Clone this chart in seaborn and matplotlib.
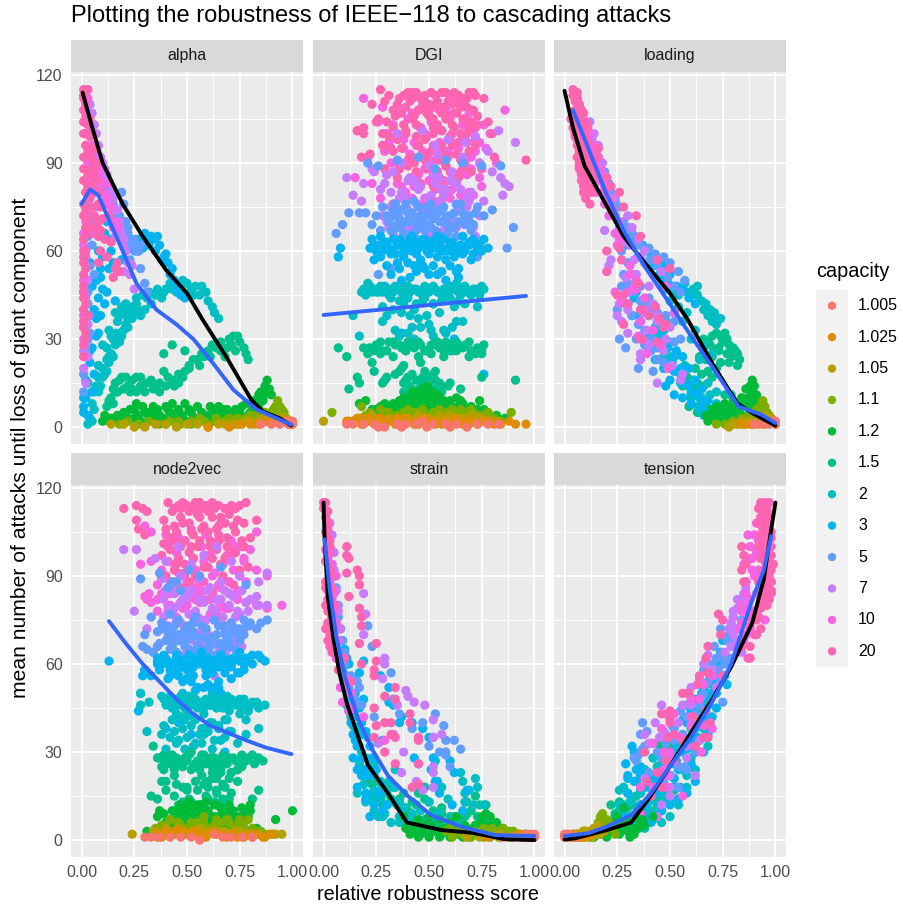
import pandas as pd
import seaborn as sns
import matplotlib.pyplot as plt
from matplotlib.patches import Rectangle
from matplotlib.ticker import FixedLocator

panels = ["alpha", "DGI", "loading", "node2vec", "strain", "tension"]
capacities = ["1.005", "1.025", "1.05", "1.1", "1.2", "1.5", "2", "3", "5", "7", "10", "20"]
colors = ["#F8766D", "#DE8C00", "#B79F00", "#7CAE00", "#00BA38", "#00C08B",
          "#00BFC4", "#00B4F0", "#619CFF", "#C77CFF", "#F564E3", "#FF64B0"]
x_ticks = [0, 0.25, 0.5, 0.75, 1]
x_tick_labels = ["0.00", "0.25", "0.50", "0.75", "1.00"]
y_ticks = [0, 30, 60, 90, 120]

# scores below are in hundredths, y is the mean number of attacks
alpha_x_20 = [1,1,1,1,1,2,1,1,1,1, 1,2,1,1,1,1,1,1,1,1, 2,3,2,4,5,6,7,6,8,2, 3,9,13,8,8,14,16,18,2,3, 5,1,1, 1,2,3,4,2,3,4,5,3,5, 6,7,8,4,6,8,10,6,9,11, 2,3,1,2,1,2,3,1,2,9, 12,15,17]
alpha_y_20 = [115,112,108,104,100,96,92,88,84,76, 72,68,64,60,56,52,48,44,40,36, 32,115,110,105,100,95,90,85,80,80, 82,75,72,65,56,63,54,53,60,66, 75,28,24, 113,106,103,99,100,94,92,88,86,82, 88,84,76,78,72,70,71,68,67,64, 74,70,58,54,46,42,38,34,30,60, 58,51,56]
alpha_x_10 = [2,3,4,5,6,7,8,9,10,12, 14,2,1,1,2,1,1,1,1,13, 3,8,6,16,17,10, 3,4,5,6,7,9,10,11,13,15, 2,3,2,3,4,5]
alpha_y_10 = [110,106,100,96,90,88,86,84,80,78, 75,70,66,62,58,50,46,38,30,83, 78,70,80,70,68,76, 112,104,92,86,94,82,88,76,72,68, 96,90,80,84,72,66]
alpha_x_7 = [4,6,8,9,11,13,15,17,18,19, 20,22,23,16,1,1,1,1,2,2, 3,20,14,10,25,7, 5,7,10,12,14,16,18,20,21,24, 2,3,2,3]
alpha_y_7 = [110,103,96,92,88,83,78,74,70,66, 62,56,52,65,40,34,26,20,15,44, 50,53,76,85,47,75, 107,100,90,86,80,74,68,64,60,55, 55,35,28,24]
alpha_x_5 = [12,14,16,18,21,22,24,25,23,28, 30,2,2,3,4,3,4,2,3,1, 1,2,19,20,27,31, 13,15,17,19,21,23,25,26,28,22, 3,4,5,6,2,3,4,2]
alpha_y_5 = [82,78,74,72,70,66,62,60,57,54, 49,72,68,65,55,46,38,35,30,12, 18,24,80,76,60,46, 78,76,72,70,66,64,64,60,62,68, 76,70,62,52,60,42,32,26]
alpha_x_3 = [26,28,31,34,37,39,41,43,44,45, 47,49,8,9,8,7,5,4,3,1, 12,13,10,16,4,7,6,9,2,3, 11,14,18,21,24,27, 27,29,30,32,33,35,36,38,40,42, 46,48, 6,7,9,10,11,5,6,8, 13,15,3,4,5,2,1,1,19,12,14]
alpha_y_3 = [61,63,64,64,62,58,56,54,50,47, 45,44,60,51,44,37,27,22,15,7, 46,64,58,43,56,31,18,38,10,4, 66,60,67,63,62,60, 64,61,66,62,65,60,65,57,59,52, 48,46, 66,50,54,47,42,48,40,32, 54,56,30,26,12,16,10,5,57,70,72]
alpha_x_2 = [4,5,7,8,13,12,13,18,21,24, 31,37,43,50,54,59,62,65,10,12, 14,15,17,20,16,19,22,26,28,33, 38,40,47,52,56,8,11,14,18,25, 6, 9,10,12,13,15,16,18,20,22,24, 27,30,35,39,42,45,48,53,57,60, 63,6,8,10,16,19,21,23,26,29, 32,36,3,5]
alpha_y_2 = [3,8,14,17,22,27,33,38,35,41, 44,46,47,49,48,46,41,37,20,23, 25,30,36,39,28,31,37,42,38,42, 44,47,48,47,45,12,18,31,32,39, 6, 14,17,19,24,24,32,29,33,34,37, 40,40,45,46,49,46,50,45,48,43, 39,12,21,28,39,41,42,40,44,45, 46,47,1,2]
alpha_x_1_5 = [12,14,16,18,21,26,23,31,37,43, 48,39,39,43,49,53,57,64,69,72, 75,79,20,24,28,34,40,46,51,60, 66,17,15, 13,15,17,19,22,24,26,28,30,33, 35,37,41,44,46,49,51,55,58,61, 62,66,68,71,74,77,78,73,70,56]
alpha_y_1_5 = [7,10,15,16,17,17,12,15,15,16, 17,19,25,28,26,23,25,27,27,31, 29,23,13,13,14,13,14,15,20,26, 26,12,8, 9,13,12,17,14,16,12,17,12,16, 14,12,17,14,18,19,21,23,24,24, 28,29,24,28,31,27,25,26,30,21]
alpha_x_1_2 = [10,13,16,19,22,25,27,30,33,36, 39,42,45,48,51,54,57,60,63,66, 69,72,75,78,81,83,85,87,88,89, 28,35,41,47,53,65,79,86, 11,14,17,20,23,26,29,31,34,37, 40,43,46,49,52,55,58,61,64,67, 70,73,76,80,82,84,86,88,25,32, 38,44,50,56,62,68,74,78,84,90]
alpha_y_1_2 = [2,2,3,2,3,6,4,5,4,6, 3,5,4,4,6,3,5,4,6,3, 6,4,5,8,6,9,12,14,16,13, 2,3,6,2,3,7,4,9, 4,3,4,5,6,8,7,5,7,4, 7,8,6,8,5,7,4,7,5,6, 5,6,7,5,9,11,10,12,3,3, 2,3,2,3,2,3,2,2,7,11]
alpha_x_1_1 = [40,46,52,58,64,70,74,78,80,83, 85,87,89,91,92,93,94,96,97,72, 18,22,27,32,37,42,47,52,56,60, 64,68,72,76,79,82,85,88,90,92, 94,95,91,86]
alpha_y_1_1 = [1,2,1,2,2,3,3,3,4,4, 5,5,4,6,7,9,7,5,3,1, 1,2,1,2,1,2,1,2,3,1, 3,2,2,2,3,3,3,3,5,6, 5,6,3,2]
alpha_x_1_05 = [25,35,45,55,65,72,76,80,84,88, 91,94,96,98,99, 14,20,30,40,50,60,68,74,78,82, 86,89,92,95,97]
alpha_y_1_05 = [0,1,0,1,1,1,1,2,2,2, 3,3,3,2,2, 1,1,0,1,1,0,1,1,2,1, 3,2,2,2,3]
alpha_x_1_025 = [60,70,75,80,84,88,91,94,96,98, 99,100]
alpha_y_1_025 = [0,0,1,1,1,2,2,2,2,2, 1,1]
alpha_x_1_005 = [85,90,94,97,99,100,100,98]
alpha_y_1_005 = [1,1,1,2,2,2,1,1]

DGI_x_20 = [27,31,38,40,42,44,46,48,51,53, 56,58,60,62,64,66,69,71,72,76, 23,35,41,47,50,54,57,61,65,68, 26,37,43,45,49,52,55,59,63,67, 70,73,16,19,25,28,33,39,44,48, 52,56,61,65,69,73,78,80,16,19, 28,32,42,47,51,55,59,63,67,72, 18,22,29,43,49,54,58,62,66,70, 74,81,35,41,46,52,57,63,75,96, 29,33,36,39,42,45,48,50,53,56, 59,62,65,68,71,30,34,38,42,46, 50,54,58,62,66,70,31,35,39,44, 48,52,56,60,64,68,72,33,37,41, 45,49,53,57,61,65,69,36,40,44, 48,52,56,60,64]
DGI_y_20 = [115,113,113,114,114,114,112,113,114,113, 114,114,113,114,113,112,114,114,113,112, 110,110,111,109,110,111,109,110,111,109, 105,107,106,108,107,105,108,106,107,105, 104,106,101,102,104,100,102,101,103,100, 102,101,103,100,102,103,104,100,101,100, 96,95,92,93,94,91,92,93,90,96, 92,93,88,90,88,87,89,86,88,87, 90,92,85,84,83,82,84,83,88,91, 111,108,112,109,112,108,111,108,110,107, 111,107,109,112,108,104,106,103,105,102, 106,103,105,102,105,101,99,98,100,99, 98,100,96,99,97,100,98,94,95,92, 96,92,95,93,96,91,94,88,89,87, 91,86,92,87,85]
DGI_x_10 = [19,28,37,42,47,52,58,63,69,86, 26,33,40,46,51,56,60,66,72,76, 31,38,44,49,55,61,67,74,79,15, 21,29,35,41,48,53,59,65,70,77, 23,30,37,43,50,57,63,68,75,82, 27,33,39,46,52,60,71,66,41,47, 30,34,38,43,47,52,56,60,64,68, 72,32,36,40,45,49,54,58,62,66, 70,74,35,39,43,48,53,57,61,65, 69,33,37,42,47,51,55,59,63]
DGI_y_10 = [112,109,108,107,110,109,108,111,107,108, 104,103,105,102,104,101,105,103,102,103, 97,98,96,99,97,100,98,97,100,85, 92,94,90,93,88,91,94,87,92,95, 83,86,82,85,84,83,85,86,82,90, 78,76,79,75,77,78,79,74,72,73, 100,99,95,97,94,96,94,98,95,97, 94,90,88,91,86,90,87,89,86,90, 88,85,83,80,82,78,81,79,81,79, 80,76,74,78,76,75,77,80,76]
DGI_x_7 = [35,47,53,59,67,72,78,83,91,54, 23,30,37,43,50,55,61,66,74,84, 11,19,24,32,40,45,52,58,63,70, 80,86,14,18,27,34,39,46,51,56, 60,65,76,85,30,36,42,48,54,62, 68,33,39,45,57,74,88,72,28,50, 29,33,37,41,45,49,53,57,61,65, 69,32,36,40,44,48,52,56,60,64, 68,31,35,39,43,47,51,55,59,63, 67,71]
DGI_y_7 = [100,101,96,98,97,99,94,101,97,93, 88,86,90,84,89,85,87,92,90,85, 85,83,87,80,84,82,86,81,83,80, 87,83,79,77,81,76,78,82,79,81, 84,76,77,79,70,71,68,73,74,70, 75,66,64,69,67,72,82,65,72,65, 83,87,80,85,81,78,83,79,84,81, 77,75,78,74,76,72,75,77,72,74, 78,68,72,67,71,68,72,66,69,68, 72,68]
DGI_x_5 = [21,26,35,45,53,58,66,75,84,12, 9,6,17,20,25,28,31,34,37,40, 43,46,49,52,55,59,62,65,69,73, 76,80,33,36,39,42,45,48,51,54, 57,60,63,67,71,29,38,44,50,56, 61,23,27,90,73,87,46,32,26,41, 30,33,36,39,42,45,48,51,54,57, 60,63,66,69,72,31,34,37,40,43, 46,49,52,55,58,61,64,67,70,32, 35,38,41,44,47,50,53,56,59,62]
DGI_y_5 = [90,89,91,92,88,91,90,89,89,73, 69,66,73,73,72,75,71,76,74,70, 77,72,75,71,74,69,73,76,70,75, 72,74,67,68,70,66,69,67,68,66, 70,68,65,71,69,63,61,64,62,65, 63,69,67,68,58,61,55,54,52,47, 72,74,71,76,73,75,72,76,73,75, 72,76,73,72,73,70,72,69,73,70, 72,69,73,70,72,68,70,69,67,67, 69,66,70,67,71,69,67,70,66,68]
DGI_x_3 = [23,26,28,29,31,33,35,37,39,41, 43,45,47,49,51,53,55,57,59,61, 63,65,67,69,71,73,75,78,8,7, 34,38,42,46,50,54,58,62,66,70, 30,36,40,44,48,52,56,60,64,27, 24,32,35,41,47,54,58,63,29,40, 37,62,60,76, 24,27,30,33,36,39,42,45,48,51, 54,57,60,63,66,69,72,76,25,29, 32,35,38,41,44,47,50,53,56,59, 62,65,68,71,74,22,43,50,64,37]
DGI_y_3 = [64,62,60,63,61,64,62,63,60,62, 63,61,64,60,63,61,62,64,60,63, 61,62,60,63,64,61,60,61,61,58, 59,58,60,57,59,58,57,58,59,57, 55,54,56,53,54,55,53,55,54,58, 57,52,56,51,55,52,50,53,48,46, 32,30,26,18, 62,65,63,60,64,61,65,62,64,61, 65,60,63,61,65,62,63,64,60,61, 59,62,60,64,59,62,60,64,60,61, 59,60,62,59,62,61,55,52,51,50]
DGI_x_2 = [19,22,24,27,30,33,36,39,42,45, 48,51,54,57,60,63,66,69,72,75, 20,26,31,35,38,41,44,47,50,53, 56,59,62,65,68,71,74,28,38,43, 47,52,57,62,67,73,14,33,37,41, 45,49,55,63,28,30,17,34,42,50, 58,66,36,40,46,52,57,61,43,51, 18,21,23,25,28,31,34,37,40,43, 46,49,52,55,58,61,64,67,70,73, 76,32,36,40,44,48,52,56,60,64]
DGI_y_2 = [47,48,47,48,47,46,47,48,47,46, 48,47,46,47,48,49,47,46,47,48, 45,46,45,47,45,46,47,45,46,47, 45,46,47,45,46,47,45,41,42,40, 43,42,44,41,42,41,38,40,39,38, 37,38,39,36,36,38,31,33,34,35, 32,36,31,32,34,31,33,34,30,33, 46,49,46,46,46,47,48,46,48,47, 46,47,48,46,45,47,46,48,45,46, 47,44,43,44,42,44,42,43,44,43]
DGI_x_1_5 = [19,22,25,28,31,34,37,40,43,46, 49,52,55,58,61,64,67,70,73,76, 21,27,33,39,45,51,57,63,69,75, 7,11,23,38,46,37,42,48,24,30, 17,29,34,40,44,47,50,53,56,60, 65,41,36,45,49,55,59,75,91,12, 16,28,39,52,44,47,50,53,38,42, 24,27,30,33,36,39,42,45,48,51, 54,57,60,63,66,69,72,75,38,41, 44,47,50,53,41,44,47,50,53,56]
DGI_y_1_5 = [27,27,28,26,29,28,27,29,27,28, 26,28,27,29,26,27,28,26,27,28, 25,25,24,26,24,25,24,26,24,25, 27,24,22,21,22,20,18,19,19,17, 15,16,18,17,16,15,17,16,14,15, 13,14,19,13,12,15,14,17,16,13, 17,15,16,18,10,13,12,11,12,10, 26,29,26,29,28,26,28,29,26,28, 29,26,28,29,27,29,25,26,15,13, 12,17,14,19,11,10,14,9,13,12]
DGI_x_1_2 = [17,20,23,27,30,33,36,39,42,45, 48,51,54,57,60,63,66,70,74,76, 28,35,40,44,47,50,53,56,59,62, 37,41,45,48,52,55,58,43,46,50, 82,86,24,32,65,72, 25,29,33,37,41,45,49,53,57,61, 65,69,73,31,36,40,44,48,52,56, 60,64,68,38,42,46,50,54,44,48, 52,47,49,51]
DGI_y_1_2 = [8,9,6,7,7,8,9,8,12,11, 10,9,11,8,9,10,8,7,9,6, 5,6,6,7,9,7,6,8,6,5, 5,10,9,11,8,10,5,12,9,12, 4,3,4,4,4,3, 6,8,7,7,9,8,9,10,9,7, 9,6,6,6,8,8,10,9,10,7, 8,7,5,10,11,12,11,9,7,6, 6,13,14,12]
DGI_x_1_1 = [4,18,22,27,31,35,40,45,50,55, 60,65,70,74,78,81,89,20,25,30, 37,43,48,53,58,63,68,72,76,84, 17,23,29,33,38,43,47,52,56,61, 66,71,77,28,34,41,49,55,62,69]
DGI_y_1_1 = [5,7,5,6,5,4,6,5,4,6, 5,6,6,4,5,3,5,4,3,4, 3,5,4,3,5,4,5,3,4,2, 3,3,5,3,5,3,6,5,3,6, 3,5,3,3,3,4,3,6,5,3]
DGI_x_1_05 = [0,12,16,19,24,28,33,38,43,48, 53,58,63,68,73,78,82,21,30,36, 41,46,52,57,62,70,76, 14,18,23,27,31,35,40,45,50,55, 60,65,70,75,80,26,44,54]
DGI_y_1_05 = [2,2,2,3,3,2,2,3,2,3, 2,3,2,3,3,2,2,2,2,2, 2,2,2,2,2,2,2, 2,3,4,2,3,3,3,4,3,4, 4,3,4,3,2,3,3,3]
DGI_x_1_025 = [11,14,18,22,27,31,36,40,45,50, 56,61,66,71,76,81,88,96,25,34, 43,53,59,69, 16,21,26,30,35,39,44,48,53,58, 63,68,73,78,84,91]
DGI_y_1_025 = [2,2,1,2,3,2,1,2,1,2, 1,2,1,2,2,1,2,1,1,1, 1,1,1,1, 3,3,2,2,3,3,2,3,2,2, 3,2,1,2,1,1]
DGI_x_1_005 = [11,14,19,24,29,35,39,44,47,52, 58,63,68,73,78,83,26,37,49,60]
DGI_y_1_005 = [1,1,1,1,0,1,1,1,2,1, 1,1,0,1,1,1,0,0,0,0]

loading_x_20 = [4,5,6,7,8,9,10,11,3,4, 5,6,7,8,9,10,5,6,7,8, 9,11,13,12,14,16,15,7,10,12, 20,22,26,28,34,36,44,20,26,27, 20,35,43,36,28,44,36,45,48,50, 28,25,30,40,47, 4,5,6,7,8,5,6,7,8,9, 10,6,7,8,9,10,11,6,7,8, 9,10,12,7,8,9,10,11,8,9, 10,11,13,15,9,10,11,12,14]
loading_y_20 = [115,114,112,110,108,107,104,102,105,102, 99,96,94,92,90,87,100,92,89,86, 84,81,80,92,88,95,85,90,84,88, 85,82,80,75,72,65,57,60,61,57, 53,49,41,40,35,29,30,37,35,54, 45,45,42,38,34, 113,111,114,107,104,108,107,103,100,97, 98,104,100,96,100,93,97,98,95,88, 94,90,90,88,84,82,86,82,87,80, 92,88,86,92,84,78,81,76,82]
loading_x_10 = [6,8,10,12,14,16,17,18,19,15, 13,21,23,26,11,7,5,25,31,34, 38,27,30,24,38,42,46,49,37,35, 39,43,52,45,48,33,31, 7,9,11,13,15,16,18,20,9,11, 13,15,17,19,21,24,26,34,30,36]
loading_y_10 = [112,108,104,100,96,92,88,84,80,80, 85,78,74,70,82,95,100,62,55,47, 44,43,42,46,40,33,28,20,30,31, 25,41,39,37,48,48,52, 106,102,98,94,91,86,80,76,94,88, 90,84,84,76,72,66,64,50,46,36]
loading_x_7 = [12,14,16,18,19,21,24,30,32,35, 38,46,29,22,21,33,42,44,50,45, 36,27,30,39,36,47,51,55,44,19, 26,40,37,56, 13,15,17,19,20,22,24,26,28,31, 33,36,34,40,44,48,30,25]
loading_y_7 = [104,100,96,90,86,82,78,72,68,64, 60,53,51,57,55,47,42,36,34,28, 25,36,32,33,23,26,21,16,15,67, 42,28,39,18, 98,94,88,82,78,75,72,68,63,62, 57,58,52,48,38,30,40,38]
loading_x_5 = [19,21,24,26,28,30,32,36,40,43, 47,50,54,57,28,30,33,36,40,44, 48,52,26,25,29,34,41,44,47,52, 42,40,55,27,38,35, 22,24,27,30,33,35,38,41,44,46, 49,52,55,27,30,33,36,39,42,45, 29,32,35,38,41,44]
loading_y_5 = [87,83,77,75,70,68,66,62,61,59, 58,56,53,50,52,49,46,43,44,39, 38,36,30,40,27,30,26,23,22,29, 19,26,30,48,33,20, 80,72,66,64,62,58,56,57,55,53, 51,48,46,60,56,52,48,42,40,36, 42,38,35,28,30,27]
loading_x_3 = [33,36,38,41,44,47,50,53,56,59, 62,30,33,37,40,43,46,49,52,55, 37,40,43,47,50,55,59,63,48,52, 56,60,65,51,35,70,66, 29,32,35,37,39,42,45,48,50,34, 38,41,44,47,50,53,56,59,62,65, 68,32,36,40,44,52,56,60,64,68]
loading_y_3 = [65,62,60,58,57,55,52,48,47,44, 42,47,44,41,38,34,31,27,24,20, 30,27,23,20,16,18,14,11,14,11, 10,8,7,22,38,6,4, 62,64,58,62,56,55,52,50,48,46, 43,40,36,33,29,26,24,20,16,13, 9,38,36,32,28,19,15,12,10,5]
loading_x_2 = [47,49,51,53,55,58,61,63,65,67, 69,71,73,74,50,54,58,62,66,70, 48,44,49,53,57,61,65,69,72,65, 59,54,47,63,71,75,79,68, 48,51,54,57,60,63,66,68,70,72, 52,56,60,64,68,72,76,46,50,55, 60,64,68,74]
loading_y_2 = [48,49,48,46,47,46,47,45,43,42, 40,39,37,37,43,41,39,33,28,25, 36,32,28,25,21,16,13,11,8,10, 15,19,24,7,5,5,3,3, 47,46,45,49,45,48,40,38,36,35, 39,36,30,23,15,12,3,30,24,15, 11,6,5,3]
loading_x_1_5 = [66,68,70,72,74,76,78,80,82,83, 67,70,73,77,62,65,68,72,76,79, 55,58,61,64,67,69,72,75,78, 64,66,69,71,73,75,77,79,81,60, 63,66,70,74,78,82,56,60,65,70, 75,59,63]
loading_y_1_5 = [27,29,31,32,31,32,28,27,25,23, 23,24,26,25,20,18,19,20,11,11, 19,17,13,10,8,6,5,6,5, 24,30,28,26,27,29,30,24,26,16, 15,14,17,22,22,21,14,10,6,4, 3,7,5]
loading_x_1_2 = [70,72,74,76,78,80,82,84,86,88, 89,90,91,84,86,88,72,67,75,78, 82,74,68, 68,71,74,77,79,81,83,85,87,89, 76,80,84,88,90,92]
loading_y_1_2 = [6,7,5,8,6,9,8,10,13,14, 16,14,11,7,9,5,3,4,3,3, 3,2,2, 4,5,3,5,7,6,7,8,10,12, 2,3,4,7,9,5]
loading_x_1_1 = [76,80,84,86,88,90,92,93,94,95, 96,97,98,89,85, 78,82,84,87,89,91,93,95,97,72]
loading_y_1_1 = [1,2,2,3,4,4,5,7,9,7, 5,4,3,1,1, 1,1,3,2,3,6,5,5,3,1]
loading_x_1_05 = [78,82,86,90,93,96,98,99, 80,84,88,92,95,97]
loading_y_1_05 = [0,1,1,1,2,3,3,2, 1,2,2,2,4,2]
loading_x_1_025 = [84,88,92,95,97,99,100]
loading_y_1_025 = [1,1,1,1,2,2,1]
loading_x_1_005 = [90,94,97,99,100,100]
loading_y_1_005 = [1,1,1,2,2,1]

node2vec_x_20 = [41,44,46,48,50,53,56,59,62,65, 68,71,75,78,20,26,29,31,26,27, 30,39,44,47,51,55,58,62,66,70, 74,77,42,45,49,53,57,61,65,69, 73,80,83,38,42,46,51,55,59,64, 68,72,76,40,44,49,54,60,67,79, 43,47,51,54,57,60,63,66,70,73, 40,44,48,52,56,60,64,68,72,76, 39,43,47,52,56,61,65,69,73,77, 41,45,49,53,58,62,66,71,75,43, 47,51,57,62,67,72]
node2vec_y_20 = [115,113,114,115,114,113,115,114,115,114, 113,114,114,115,113,114,113,112,109,106, 104,109,107,110,108,111,107,110,108,111, 109,108,103,105,102,104,106,102,104,103, 105,103,109,97,99,96,98,100,97,99, 96,98,100,90,92,91,90,93,90,93, 112,113,112,115,113,112,113,110,112,113, 106,102,108,105,110,105,106,108,107,102, 101,103,100,100,102,100,102,100,98,100, 95,94,94,96,93,96,94,97,92,88, 86,88,88,85,89,87]
node2vec_x_10 = [30,33,40,46,52,59,65,71,80,83, 28,33,38,44,49,54,58,63,67,72, 77,88,36,40,45,50,55,60,65,70, 75,83,30,32,36,42,47,53,57,61, 66,72,74,78,83,36,44,50,56,62, 68,95,31,33,41,48,54,64,70,88, 41,45,49,53,57,61,65,69,73,77, 38,42,46,50,54,58,62,66,70,74, 78,38,42,46,50,54,58,62,66,70, 74,41,45,49,53,57,61,65,69]
node2vec_y_10 = [107,105,104,103,106,104,107,102,99,105, 94,95,92,94,90,92,95,91,94,92, 96,90,87,85,88,86,89,85,87,88, 90,92,83,84,82,84,81,83,85,82, 80,83,84,81,80,78,79,80,81,78, 79,80,82,81,80,79,82,78,79,79, 100,98,102,96,100,97,102,97,100,95, 90,88,91,88,86,88,90,86,88,85, 88,84,80,85,82,84,82,84,82,84, 82,78,76,79,76,75,77,76,79]
node2vec_x_7 = [20,26,35,40,46,52,58,64,71,88, 38,43,47,51,56,61,66,70,75,84, 39,42,46,50,54,58,62,66,70,74, 78,83,25,31,41,45,49,53,57,63, 68,73,80,84,88,36,44,51,60,69, 34,40,48,56,65,72,76,52,58,63, 40,44,48,52,56,60,64,68,72,76, 80,39,43,47,51,55,59,63,67,71, 75,79,41,45,49,53,57,61,65,69, 73,77]
node2vec_y_7 = [99,99,96,95,100,94,97,100,95,91, 89,87,90,85,89,86,88,84,90,88, 82,79,80,83,78,81,79,82,80,78, 81,83,78,72,73,75,72,74,71,75, 73,76,73,80,80,66,68,69,70,65, 64,62,63,62,64,67,66,58,60,56, 85,84,82,85,82,85,82,85,83,85, 82,76,78,74,77,76,75,78,76,74, 77,78,70,68,70,68,66,68,66,68, 70,72]
node2vec_x_5 = [28,37,41,45,51,56,66,78,43,47, 33,38,42,46,50,54,59,63,67,71, 75,79,85,88,30,36,40,44,49,53, 57,62,68,73,77,83,37,42,46,51, 55,60,65,70,75,31,42,46,49,54, 58,62,68,75,29,45,47,55,61,66, 38,41,44,47,50,53,56,59,62,65, 68,71,74,77,80,40,43,46,49,52, 55,58,61,64,67,70,73,76,45,48, 51,54,57,60,63,66,69,34,36,38]
node2vec_y_5 = [89,91,86,88,92,90,93,87,88,85, 76,74,77,75,73,76,72,75,73,74, 72,73,74,75,70,71,73,70,72,71, 73,69,71,72,70,72,67,69,68,70, 66,68,67,66,68,65,65,63,66,64, 65,63,66,68,66,58,62,64,52,50, 72,71,73,70,72,74,69,72,69,73, 70,71,70,75,74,68,66,70,67,69, 66,69,66,70,67,68,65,71,64,62, 65,62,64,63,62,64,62,64,66,62]
node2vec_x_3 = [13,30,33,36,39,42,45,48,51,54, 57,60,63,66,69,72,75,78,81,85, 87,37,41,44,47,50,53,56,59,62, 65,68,71,74,77,29,30,36,41,46, 50,52,55,60,65,71,75,48,54,62, 66,28,27,40,46,52,58,70,68,79, 36,39,42,45,48,51,54,57,60,63, 66,69,72,75,78,81,84,38,41,44, 47,50,53,56,59,62,65,68,71,74, 77,42,45,48,51,55,58,62,65]
node2vec_y_3 = [61,58,56,62,63,60,62,59,63,61, 64,62,60,63,61,62,64,61,63,62, 61,58,60,57,59,58,56,60,58,57, 59,58,60,57,60,56,58,61,55,56, 55,54,52,53,54,55,57,50,51,52, 50,50,44,38,40,36,38,37,30,44, 60,61,58,63,61,60,62,61,60,61, 62,60,62,61,62,60,63,60,61,59, 61,60,59,62,56,59,61,57,59,62, 58,56,57,54,57,52,52,50,52]
node2vec_x_2 = [38,41,44,47,50,53,56,59,62,65, 68,71,74,77,80,83,87,28,28,32, 40,43,46,49,52,55,58,61,64,67, 70,73,76,79,43,47,50,54,58,62, 68,75,78,39,44,48,52,56,60,65, 71,31,38,42,46,50,54,58,63,84, 40,45,49,53,57,68,74,78,62,66, 39,42,45,48,51,54,57,60,63,66, 69,72,75,78,81,84,43,46,49,52, 55,58,61,64,67,70,73,76,45,49, 53,57,61,65,69]
node2vec_y_2 = [49,47,48,49,48,49,47,48,49,48, 47,48,47,48,46,47,46,50,46,47, 46,45,47,45,46,45,47,46,45,46, 44,46,45,44,41,42,43,41,43,40, 41,43,41,39,37,38,39,36,37,38, 37,37,36,35,34,35,33,36,34,38, 31,33,31,32,33,35,33,36,31,34, 48,49,46,47,49,48,46,47,48,46, 49,47,48,46,47,45,47,46,48,47, 46,45,46,47,45,46,47,46,43,41, 42,38,40,39,41]
node2vec_x_1_5 = [34,37,40,43,46,49,52,55,58,61, 64,67,70,73,76,79,82,86,39,44, 48,52,57,62,66,71,76,40,44,57, 60,64,67,66,70,74,48,60,38,33, 36,40,44,48,51,55,59,63,67,71, 84,81,74,56,60,64,68,45,50, 36,39,42,45,48,51,54,57,60,63, 66,69,72,75,78,81,84,38,41,44, 47,50,53,56,59,62,65,68,71,74, 50,54,58,62,64,68,46,52,70]
node2vec_y_1_5 = [32,28,27,29,26,28,30,27,29,28, 26,29,28,27,29,28,26,27,24,26, 25,24,26,25,24,23,25,20,22,22, 20,21,19,23,21,24,18,18,20,15, 14,17,15,13,14,17,15,13,14,16, 17,14,20,12,14,16,12,19,17, 28,29,26,28,27,29,26,29,27,28, 27,26,28,26,27,29,28,25,27,24, 26,27,25,24,26,23,25,26,23,24, 18,20,19,21,17,18,12,13,14]
node2vec_x_1_2 = [36,39,42,45,48,51,54,57,60,63, 66,69,72,75,78,38,43,47,52,56, 61,67,74,79,31,40,46,50,59,64, 71,83,92,100,80,80,37,55,70, 37,40,43,46,49,52,55,58,61,64, 67,70,73,76,79,41,45,49,53,57, 61,65,69,73,39,44,48,52,56,60, 64,68,72,76,47,51,55,59,63]
node2vec_y_1_2 = [8,9,7,10,8,11,9,12,10,8, 11,9,10,8,9,5,7,5,6,7, 5,6,6,8,3,4,3,4,3,4, 4,4,7,10,12,10,10,10,11, 9,6,10,8,10,12,10,11,8,12, 10,12,8,11,10,6,5,8,5,9, 6,8,6,6,3,5,6,8,5,6, 4,5,4,6,12,13,12,13,12]
node2vec_x_1_1 = [38,42,47,52,58,63,69,74,79,85, 35,44,49,55,60,66,72,77,83,91, 36,40,45,50,55,61,66,72,77,41, 46,52,58,64,70,75,81,87]
node2vec_y_1_1 = [5,7,5,6,8,5,7,5,7,3, 4,3,4,5,4,3,4,4,3,2, 3,5,6,3,6,3,6,3,6,3, 6,4,6,7,6,7,4,2]
node2vec_x_1_05 = [24,34,38,43,46,51,56,60,65,70, 75,80,84,89,92,95,36,48,58,68, 35,40,44,48,53,58,63,68,73,78, 82,87]
node2vec_y_1_05 = [2,3,2,3,4,2,4,2,3,2, 3,2,2,2,2,2,1,2,2,2, 3,4,2,3,3,3,3,3,3,2, 2,1]
node2vec_x_1_025 = [36,40,45,50,55,59,64,69,74,79, 83,86,90, 38,43,48,53,57,62,67,72,77,81]
node2vec_y_1_025 = [2,3,3,2,2,1,2,1,1,2, 2,1,2, 1,2,3,3,2,3,2,2,1,1]
node2vec_x_1_005 = [33,37,42,47,52,56,63,67,71,76, 81,30]
node2vec_y_1_005 = [1,1,1,1,1,0,2,1,1,1, 1,1]

strain_x_20 = [0,1,2,2,1,2,3,2,1,3, 4,1,2,3,1,2,4,3,5,11, 11,11,12,12,16,17,17,17,18,18, 17,25,25,18,24,24,29,34,34,24, 25,29,32,32,24,34,29,34,41,41, 45,45,45,45,42,10,13,3,7, 0,1,2,3,1,2,3,1,2,4, 1,2,3,2,3,4,5,5]
strain_y_20 = [115,115,112,108,105,103,100,97,95,92, 90,88,85,83,80,78,76,74,72,100, 97,91,83,96,92,90,87,79,76,73, 67,67,61,60,58,56,49,48,52,45, 39,40,40,36,35,35,30,26,43,40, 35,34,26,19,18,62,54,68,58, 113,110,106,102,99,94,92,86,82,86, 72,74,70,68,66,64,80,70]
strain_x_10 = [1,2,3,4,3,4,5,6,5,4, 7,8,11,13,14,9,33,29,19,3, 2,6, 2,3,4,5,2,3,4,5,6,6, 7,8,10,12]
strain_y_10 = [110,104,98,94,88,82,78,74,68,66, 62,58,55,50,45,47,36,34,42,74, 86,90, 108,100,90,84,96,78,76,72,80,62, 68,52,52,44]
strain_x_7 = [3,4,5,5,6,7,8,19,20,19, 29,29,28,39,40,43,48,52,56,38, 33,26,37,52,47,44,52,52,35,52]
strain_y_7 = [108,104,98,92,85,78,72,84,77,70, 62,60,55,51,49,47,46,41,36,30, 36,33,23,23,17,20,18,25,46,35]
strain_x_5 = [3,5,7,8,9,10,13,17,21,23, 33,47,53,57,58,52,55,62,58,65, 24,16,13,36,42,50,58,60,32, 4,6,7,8,10,11,12,14,9,15, 18]
strain_y_5 = [98,90,80,72,68,60,56,52,73,66, 48,40,43,39,34,35,30,34,30,31, 42,54,46,43,38,32,29,25,57, 94,86,76,64,64,56,52,50,60,48, 46]
strain_x_3 = [7,9,10,12,14,15,17,18,20,22, 27,31,33,37,42,47,50,52,53,55, 60,62,19,12,14,16,18,16,19,22, 17,28,31,36,45,43,51,54,61,66, 68, 6,8,8,9,11,11,13,15,16,19, 21,23,25,14,17,20,24,28,30,16, 22,13,15,18,20,26]
strain_y_3 = [72,68,65,60,55,50,45,40,37,32, 56,52,46,42,40,38,35,28,20,16, 27,23,61,44,36,32,28,24,24,22, 57,34,47,40,26,28,24,20,12,10, 17, 66,72,62,58,62,52,48,42,36,48, 35,28,24,28,32,16,12,10,12,18, 8,40,34,22,14,16]
strain_x_2 = [11,13,14,15,16,18,20,22,24,27, 30,33,36,40,44,50,55,59,65,66, 67,69,72,73,17,19,21,24,27,29, 31,34,26,23,53,56,67,71,76,47, 12,14,16,18,20,24,26,28,30,34, 36,38,42,46,52,58,62,64,16,20, 24,28,32,36,40,44,48,52,57,62]
strain_y_2 = [46,42,39,35,32,30,28,25,22,20, 17,13,8,7,19,13,9,14,23,20, 16,17,21,18,26,19,15,17,15,9, 20,24,8,14,27,18,13,12,12,18, 50,46,38,36,22,26,14,18,12,18, 13,11,9,10,8,6,8,5,16,13, 10,8,6,6,5,6,7,5,4,5]
strain_x_1_5 = [21,24,27,30,33,36,39,42,45,48, 52,56,60,64,68,72,74,77,28,35, 43,50,38,41,47,54,61,67,70,73, 20,23,26,29,32,36,40,44,48,52, 56,60,64,68,72,76,40,44,48,52, 56,42]
strain_y_1_5 = [20,16,14,16,18,14,11,9,16,18, 10,9,6,4,13,15,12,12,12,12, 5,13,16,7,6,4,4,8,10,8, 24,19,20,12,14,8,10,12,14,6, 11,8,7,9,5,6,4,4,3,3, 2,13]
strain_x_1_2 = [38,40,42,45,48,52,56,60,64,68, 72,75,77,79,82,41,46,50,55,63, 70,85, 39,43,47,51,55,59,63,67,71,75, 79,83,87,45,50,55,60,66,74]
strain_y_1_2 = [8,5,3,7,5,3,4,6,2,4, 5,8,9,8,6,2,2,8,7,8, 2,4, 4,5,3,5,3,4,3,5,4,6, 5,4,3,1,1,1,1,1,2]
strain_x_1_1 = [58,62,66,70,74,78,82,85,88,91, 61,69,76,83,89, 60,64,68,72,76,80,84,87,90,93]
strain_y_1_1 = [3,2,2,1,2,3,3,4,3,2, 1,1,1,1,1, 4,3,3,3,4,4,2,2,3,2]
strain_x_1_05 = [68,74,79,84,88,92,95,97]
strain_y_1_05 = [1,1,1,2,1,2,2,1]
strain_x_1_025 = [78,84,89,93,96,98]
strain_y_1_025 = [1,1,1,2,2,1]
strain_x_1_005 = [85,90,94,96,98,100,100]
strain_y_1_005 = [1,1,1,2,2,2,1]

tension_x_20 = [93,95,96,97,93,94,95,96,97,92, 94,96,98,94,95,97,98,96,98,92, 95,97,96,93,98,84,85,84,85,93, 91,88,91,84,88,88,75,73,74,68, 67,68,64,63,59,56,75,69,68,50, 50,46,52,49,50,38,44,67,66,48, 46,56,61,62,39,41, 92,93,94,95,96,97,98,93,94,95, 96,97,98,99,93,94,95,96,97,98, 92,94,96,91,92,93,90,88,86]
tension_y_20 = [115,115,114,115,113,112,111,112,110,108, 106,108,105,102,104,100,97,96,92,100, 95,88,86,82,85,100,97,92,88,79, 75,73,70,66,66,62,75,77,70,66, 62,57,56,53,50,50,56,40,35,44, 42,43,36,35,40,30,23,44,35,27, 18,34,42,32,20,15, 113,110,108,109,107,105,103,104,100,98, 100,94,100,94,96,92,90,84,82,88, 88,84,80,84,76,72,76,76,94]
tension_x_10 = [91,93,95,96,97,98,92,94,88,89, 90,92,93,95,86,84,83,85,87,84, 70,66,60,70,52,50,46,42,60,66, 47,55,52,62,30,36,65,42,56,36, 47,48, 87,88,89,90,91,92,93,94,95,96, 97,98,85,86,88,90,92,94,84,86, 88,90,86,64,60,50,48]
tension_y_10 = [108,103,98,94,90,84,102,96,100,96, 90,85,80,75,88,80,72,68,62,78, 56,53,48,38,43,41,38,33,39,39, 24,35,27,32,5,9,30,18,15,18, 30,18, 104,96,92,104,98,92,88,90,82,84, 94,88,94,84,82,78,76,80,74,70, 72,70,78,48,42,30,22]
tension_x_7 = [86,85,87,88,84,82,81,80,83,79, 76,68,66,64,60,58,46,48,43,47, 40,38,52,38,58,61,50,50,46,64, 44,62, 80,82,84,86,78,80,82,84,79,81, 70,72,56,54,60,45,50,58,50,47]
tension_y_7 = [88,84,80,76,82,79,72,70,68,66, 64,63,60,55,52,50,46,43,40,37, 33,36,36,21,28,38,18,15,12,34, 8,22, 78,82,74,86,72,76,68,64,74,66, 58,52,46,40,46,35,22,32,28,22]
tension_x_5 = [84,80,79,77,75,78,73,72,69,66, 72,75,65,62,58,55,51,48,37,39, 38,35,34,37,56,52,46,54,61,57, 47,40,33, 71,74,76,78,80,82,70,72,74,76, 66,68,64,60,58,52,48,44,41,36, 50,54,58,62]
tension_y_5 = [75,76,72,68,64,62,58,62,55,50, 52,47,49,43,46,44,39,33,40,37, 32,29,27,31,36,34,28,25,39,25, 20,23,28, 66,72,62,70,68,72,60,56,54,60, 58,54,46,40,42,38,36,30,33,36, 22,18,24,30]
tension_x_3 = [72,74,75,77,70,69,67,65,62,60, 58,56,53,51,72,70,66,62,58,54, 50,48,33,34,30,29,36,32,44,55, 60,63,52,28,47,30,41,38, 70,72,74,76,66,68,70,62,64,66, 58,60,62,56,54,52,50,46,44,42, 40,36,34,30,54,58,62,66,50,46, 42,38,36,68]
tension_y_3 = [60,64,68,53,55,48,45,50,48,44, 46,41,33,30,45,42,35,38,31,24, 30,27,30,24,22,26,25,32,16,18, 26,35,21,9,25,21,6,12, 56,50,60,56,52,42,50,44,42,40, 40,34,30,36,30,26,22,18,20,22, 18,22,20,16,14,16,20,30,12,10, 8,8,12,36]
tension_x_2 = [70,66,64,60,56,54,50,46,42,37, 33,29,28,33,38,42,46,50,54,58, 62,66,68,46,40,36,31,26,26,44, 50,52,47,43,40,62,68, 68,64,60,56,52,48,44,40,36,32, 64,60,56,52,48,44,40,36,30,26, 34,38,42,46,50,54,58]
tension_y_2 = [53,47,42,38,34,30,27,20,14,10, 8,10,18,20,24,28,16,13,12,18, 30,38,32,10,13,17,13,17,12,25, 22,28,13,9,6,24,46, 50,45,42,30,30,26,22,20,16,14, 34,28,24,18,16,12,10,6,8,7, 5,4,7,6,8,14,22]
tension_x_1_5 = [22,26,30,34,38,42,46,50,36,42, 48,44,46,48,50,51,53,40,52,34, 24,32,30,37,28, 24,26,28,30,32,34,36,38,40,42, 44,46,48,50,33,37,41,45,27,31]
tension_y_1_5 = [12,13,16,20,24,28,29,27,12,17, 31,33,32,33,32,30,27,6,17,9, 8,8,7,7,5, 9,10,12,11,12,15,16,18,20,22, 25,26,28,22,4,5,10,14,7,3]
tension_x_1_2 = [10,14,18,22,26,30,33,25,19,16, 13,7,22,30,35,38,42,26,28, 12,15,18,21,24,27,30,33,14,20, 26,31,35,37]
tension_y_1_2 = [2,3,2,4,5,3,2,8,5,3, 1,1,6,6,7,5,8,3,11, 1,2,3,3,3,5,5,4,1,1, 2,1,4,7]
tension_x_1_1 = [5,8,10,12,14,16,17,18,20,22, 9,13,19,24,11,15, 6,9,12,15,17,19,21,23,16,18]
tension_y_1_1 = [1,2,3,2,4,6,8,9,7,5, 1,1,3,2,2,2, 2,3,3,4,5,5,6,4,4,7]
tension_x_1_05 = [3,5,7,9,10,12,14,16,18,8, 13, 4,6,8,11,13,15,17]
tension_y_1_05 = [1,1,2,3,3,3,4,5,3,1, 1, 2,2,2,2,3,2,2]
tension_x_1_025 = [1,2,4,5,7,8,10,12]
tension_y_1_025 = [1,1,2,2,1,1,1,2]
tension_x_1_005 = [0,0,1,2,3,4,6]
tension_y_1_005 = [1,2,2,2,1,1,1]

# black curves, only on the four panels that have one
black_x = {
    "alpha": [0.005,0.045,0.10,0.195,0.29,0.40,0.50,0.575,0.69,0.805,0.86,0.94,0.995],
    "loading": [0,0.04,0.095,0.195,0.28,0.38,0.50,0.585,0.70,0.82,0.89,0.935,1],
    "strain": [0,0.005,0.02,0.045,0.075,0.11,0.165,0.21,0.305,0.395,0.56,0.705,0.86,1],
    "tension": [0,0.05,0.20,0.315,0.395,0.49,0.585,0.70,0.79,0.89,0.945,0.975,1],
}
black_y = {
    "alpha": [114,103.5,90,76,65,53.6,45.6,36.5,23.5,9.3,5.3,3,0.5],
    "loading": [114.6,102,89,76,65,56,45.6,36.5,21.8,8,4.8,3,0.5],
    "strain": [115,102.5,83,69.5,57,46.7,35,25.6,16,6,3.4,2.5,0.3,0],
    "tension": [0.2,0.6,3.4,6,13.7,24,35,48,59,74,89,103.6,115],
}
# blue smoothers
blue_x = {
    "alpha": [0,0.04,0.08,0.13,0.195,0.26,0.355,0.45,0.53,0.61,0.72,0.83,0.925,0.995],
    "DGI": [0,0.96],
    "loading": [0.04,0.11,0.195,0.28,0.38,0.49,0.60,0.71,0.825,0.935,1],
    "node2vec": [0.13,0.21,0.29,0.37,0.45,0.53,0.61,0.69,0.78,0.875,0.995],
    "strain": [0.005,0.03,0.06,0.10,0.165,0.23,0.305,0.40,0.51,0.655,0.815,1],
    "tension": [0,0.11,0.20,0.315,0.41,0.505,0.60,0.70,0.79,0.89,0.945,0.98],
}
blue_y = {
    "alpha": [76,81,79,70.6,60,49,40,35,30,23,12.7,6,3,0.8],
    "DGI": [38.2,44.7],
    "loading": [108,95.5,80,67,54.7,43,31,19.5,7,4.2,1.4],
    "node2vec": [74.6,67,60,54,48,43,39,36.7,34,31.5,29.3],
    "strain": [102.5,85,69.5,56,41,31,22,15,8.5,4.5,1.7,1.4],
    "tension": [1.4,2.3,4.6,8.5,16,25.6,35,47,60,82,92,103.6],
}

curve_order = ["1.5", "2", "3", "5", "7", "10", "20", "1.2", "1.1", "1.05", "1.025", "1.005"]
cloud_order = ["10", "20", "7", "5", "3", "2", "1.5", "1.2", "1.1", "1.05", "1.025", "1.005"]

rows = []
for panel in panels:
    order = cloud_order if panel in ("DGI", "node2vec") else curve_order
    for cap in order:
        key = cap.replace(".", "_")
        xs = globals()[f"{panel}_x_{key}"]
        ys = globals()[f"{panel}_y_{key}"]
        for a, b in zip(xs, ys):
            rows.append({"panel": panel, "capacity": cap, "score": a / 100, "attacks": b})
df = pd.DataFrame(rows)

W, H = 904, 907
sns.set_theme(style="darkgrid", rc={"axes.facecolor": "#EBEBEB", "grid.color": "white"})
plt.rcParams["font.family"] = ["Liberation Sans", "DejaVu Sans"]

g = sns.FacetGrid(df, col="panel", col_order=panels, col_wrap=3, sharex=True, sharey=True,
                  despine=False)
g.map_dataframe(sns.scatterplot, x="score", y="attacks", hue="capacity", hue_order=capacities,
                palette=colors, s=44, linewidth=0, legend=False)
fig = g.figure
fig.set_size_inches(W / 100, H / 100)

lefts = [71, 313, 554]
tops = [72, 485]
for i, (panel, ax) in enumerate(zip(panels, g.axes.flat)):
    col, row = i % 3, i // 3
    ax.set_position([lefts[col] / W, 1 - (tops[row] + 372) / H, 232 / W, 372 / H])
    if panel in black_x:
        sns.lineplot(x=black_x[panel], y=black_y[panel], color="black", linewidth=2.8,
                     estimator=None, sort=False, ax=ax)
    sns.lineplot(x=blue_x[panel], y=blue_y[panel], color="#3366FF", linewidth=2.8,
                 estimator=None, sort=False, ax=ax)

    ax.set_xlim(-0.05, 1.05)
    ax.set_ylim(-5.76, 121)
    ax.set_xticks(x_ticks)
    ax.set_xticklabels(x_tick_labels)
    ax.set_yticks(y_ticks)
    ax.xaxis.set_minor_locator(FixedLocator([0.125, 0.375, 0.625, 0.875]))
    ax.yaxis.set_minor_locator(FixedLocator([15, 45, 75, 105]))
    ax.grid(which="major", color="white", linewidth=1.4)
    ax.grid(which="minor", color="white", linewidth=0.7)
    ax.set_axisbelow(True)
    for s in ax.spines.values():
        s.set_visible(False)
    ax.set_xlabel("")
    ax.set_ylabel("")
    ax.set_title("")
    ax.tick_params(which="minor", length=0)
    ax.tick_params(axis="x", which="major", length=3.6 if row == 1 else 0, width=1, color="#333333",
                   labelcolor="#4D4D4D", labelsize=11.5, pad=2.5, labelbottom=row == 1)
    ax.tick_params(axis="y", which="major", length=3.6 if col == 0 else 0, width=1, color="#333333",
                   labelcolor="#4D4D4D", labelsize=11.5, pad=2.5, labelleft=col == 0)

    # facet strip on top of the panel
    ax.add_patch(Rectangle((0, 1), 1, 32 / 372, transform=ax.transAxes, facecolor="#D9D9D9",
                           edgecolor="none", clip_on=False))
    ax.text(0.5, 1 + 16 / 372, panel, transform=ax.transAxes, ha="center", va="center",
            fontsize=11.5, color="#1A1A1A")

fig.text(71 / W, 1 - 16 / H, "Plotting the robustness of IEEE\u2212118 to cascading attacks",
         ha="left", va="center", fontsize=17.05, color="black")
fig.text(428 / W, 1 - 894 / H, "relative robustness score", ha="center", va="center",
         fontsize=14.3, color="black")
fig.text(21 / W, 1 - 448 / H, "mean number of attacks until loss of giant component", rotation=90,
         ha="center", va="center", fontsize=15.2, color="black")

# legend column, one key per capacity
leg = fig.add_axes([816 / W, 1 - 667 / H, 32 / W, 377 / H])
leg_df = pd.DataFrame({"x": [0] * len(capacities), "y": list(range(len(capacities))),
                       "capacity": capacities})
sns.scatterplot(data=leg_df, x="x", y="y", hue="capacity", hue_order=capacities, palette=colors,
                s=36, linewidth=0, legend=False, ax=leg)
leg.set_xlim(-1, 1)
leg.set_ylim(11.5, -0.5)
leg.set_facecolor("#F2F2F2")
leg.grid(False)
leg.set_xticks([])
leg.set_yticks([])
leg.set_xlabel("")
leg.set_ylabel("")
for s in leg.spines.values():
    s.set_visible(False)
for i, cap in enumerate(capacities):
    leg.annotate(cap, (1, i), xytext=(7.2, 0), textcoords="offset points", ha="left", va="center",
                 fontsize=11.5, color="black", annotation_clip=False)
fig.text(816 / W, 1 - 272 / H, "capacity", ha="left", va="center", fontsize=14.3, color="black")

fig.savefig("out.png", dpi=100)
